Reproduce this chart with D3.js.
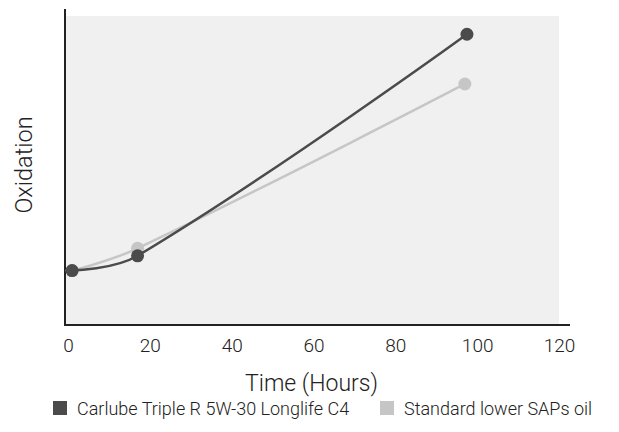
<!DOCTYPE html>
<html lang="en">
<head>
<meta charset="UTF-8">
<title>Oxidation over time</title>
<script src="https://d3js.org/d3.v7.min.js"></script>
<style>
    body { margin: 0; background: #fff; }
    text { font-family: Roboto, "Liberation Sans", sans-serif; font-weight: 300; fill: #222; }
</style>
</head>
<body>
<script>
    // data (oxidation in arbitrary units, y axis has no ticks)
    var hours = [1, 17, 97.5];
    var carlube = [17.6, 22.4, 94.1];
    var standardHours = [1, 17, 97];
    var standard = [17.6, 24.8, 78];
    var xTicks = [0, 20, 40, 60, 80, 100, 120];
    var seriesNames = ['Carlube Triple R 5W-30 Longlife C4', 'Standard lower SAPs oil'];
    var seriesColors = ['#4b4b4b', '#c6c6c6'];

    var width = 619, height = 432;

    var svg = d3.select('body').append('svg')
        .attr('width', width)
        .attr('height', height);

    // x(0) sits a little right of the y axis line
    var x = d3.scaleLinear().domain([0, 120]).range([68, 559]);
    var y = d3.scaleLinear().domain([0, 100]).range([325, 16]);

    // grey plot background
    svg.append('rect')
        .attr('x', 65).attr('y', y(100))
        .attr('width', 559 - 65).attr('height', y(0) - y(100))
        .attr('fill', '#f0f0f0');

    // x axis labels
    var xAxis = d3.axisBottom(x).tickValues(xTicks).tickSize(0).tickPadding(14);
    var gx = svg.append('g').attr('transform', 'translate(0,' + y(0) + ')').call(xAxis);
    gx.select('.domain').remove();
    gx.selectAll('text').attr('font-size', 19).attr('font-family', null).attr('fill', null);

    // axis lines
    svg.append('line')
        .attr('x1', 65).attr('x2', 65).attr('y1', 9).attr('y2', y(0) + 1)
        .attr('stroke', '#222').attr('stroke-width', 2);
    svg.append('line')
        .attr('x1', 64).attr('x2', 570).attr('y1', y(0)).attr('y2', y(0))
        .attr('stroke', '#222').attr('stroke-width', 2);

    // axis titles
    svg.append('text')
        .attr('x', x(60) - 2).attr('y', 391)
        .attr('text-anchor', 'middle')
        .attr('font-size', 23)
        .text('Time (Hours)');
    svg.append('text')
        .attr('transform', 'translate(32,165) rotate(-90)')
        .attr('text-anchor', 'middle')
        .attr('font-size', 23.5)
        .text('Oxidation');

    // tension spline: inner control points run along prev->next, split by segment
    // length; end points keep their control point on themselves
    function spline(pts, t) {
        var dist = function(a, b) { return Math.hypot(b[0] - a[0], b[1] - a[1]); };
        var cps = pts.map(function(p, i) {
            var prev = pts[i - 1], next = pts[i + 1];
            if (!prev || !next) return { prev: p, next: p };
            var d01 = dist(prev, p), d12 = dist(p, next), s = d01 + d12;
            var fa = t * d01 / s, fb = t * d12 / s;
            return {
                prev: [p[0] - fa * (next[0] - prev[0]), p[1] - fa * (next[1] - prev[1])],
                next: [p[0] + fb * (next[0] - prev[0]), p[1] + fb * (next[1] - prev[1])]
            };
        });
        var path = d3.path();
        path.moveTo(pts[0][0], pts[0][1]);
        for (var i = 1; i < pts.length; i++) {
            path.bezierCurveTo(cps[i - 1].next[0], cps[i - 1].next[1],
                cps[i].prev[0], cps[i].prev[1], pts[i][0], pts[i][1]);
        }
        return path.toString();
    }

    var series = [
        { pts: d3.zip(standardHours, standard), color: seriesColors[1] },
        { pts: d3.zip(hours, carlube), color: seriesColors[0] }
    ];

    series.forEach(function(s) {
        var px = s.pts.map(function(d) { return [x(d[0]), y(d[1])]; });
        svg.append('path')
            .attr('d', spline(px, 0.4))
            .attr('fill', 'none')
            .attr('stroke', s.color)
            .attr('stroke-width', 2.5);
        svg.selectAll(null)
            .data(s.pts)
            .enter().append('circle')
            .attr('cx', function(d) { return x(d[0]); })
            .attr('cy', function(d) { return y(d[1]); })
            .attr('r', 6.5)
            .attr('fill', s.color);
    });

    // legend
    var legendX = [53, 380];
    var legend = svg.selectAll('.legend')
        .data(seriesNames)
        .enter().append('g')
        .attr('class', 'legend')
        .attr('transform', function(d, i) { return 'translate(' + legendX[i] + ',401)'; });
    legend.append('rect')
        .attr('width', 14).attr('height', 14)
        .attr('fill', function(d, i) { return seriesColors[i]; });
    legend.append('text')
        .attr('x', 24).attr('y', 13.5)
        .attr('font-size', 18)
        .attr('fill', '#333')
        .text(function(d) { return d; });
</script>
</body>
</html>
